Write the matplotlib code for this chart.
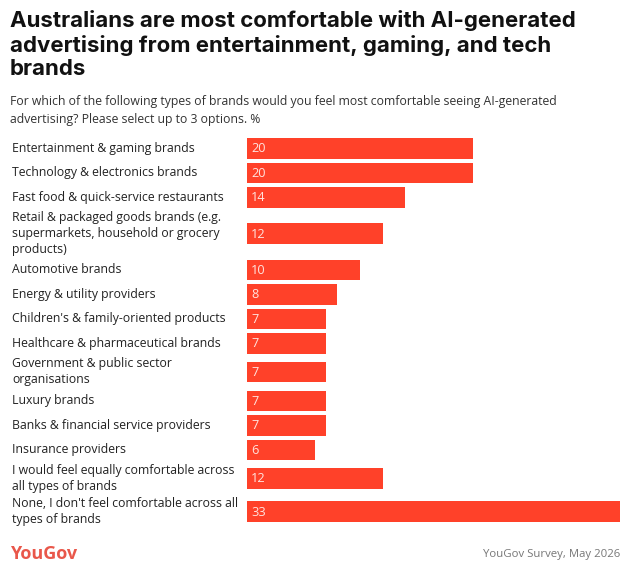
import matplotlib.pyplot as plt
from matplotlib.transforms import blended_transform_factory

# Chart text
title = ("Australians are most comfortable with AI-generated\n"
         "advertising from entertainment, gaming, and tech\n"
         "brands")
subtitle = ("For which of the following types of brands would you feel most comfortable seeing AI-generated\n"
            "advertising? Please select up to 3 options. %")
source = "YouGov Survey, May 2026"

# Data
categories = [
    "Entertainment & gaming brands",
    "Technology & electronics brands",
    "Fast food & quick-service restaurants",
    "Retail & packaged goods brands (e.g.\nsupermarkets, household or grocery\nproducts)",
    "Automotive brands",
    "Energy & utility providers",
    "Children's & family-oriented products",
    "Healthcare & pharmaceutical brands",
    "Government & public sector\norganisations",
    "Luxury brands",
    "Banks & financial service providers",
    "Insurance providers",
    "I would feel equally comfortable across\nall types of brands",
    "None, I don't feel comfortable across all\ntypes of brands",
]
values = [20, 20, 14, 12, 10, 8, 7, 7, 7, 7, 7, 6, 12, 33]

BAR_COLOR = "#FF4129"
TEXT_COLOR = "#222222"

W, H = 630, 575
fig = plt.figure(figsize=(W / 100, H / 100), dpi=100)
fig.patch.set_facecolor("white")

# row layout: taller rows for wrapped labels
row_h = []
for c in categories:
    n = c.count("\n") + 1
    row_h.append(max(24.5, 15 * n + 3))
centers = []
pos = 0
for h in row_h:
    centers.append(pos + h / 2)
    pos += h
total = pos

top_px = 136
ax_left, ax_right = 247, 620
ax = fig.add_axes([ax_left / W, 1 - (top_px + total) / H,
                   (ax_right - ax_left) / W, total / H])
ax.barh(centers, values, height=20.5, color=BAR_COLOR, edgecolor="none")
ax.set_xlim(0, max(values))
ax.set_ylim(total, 0)
ax.axis("off")

tr = blended_transform_factory(fig.transFigure, ax.transData)
for y, label, v in zip(centers, categories, values):
    ax.text(12 / W, y, label, transform=tr, ha="left", va="center",
            fontsize=8.8, color=TEXT_COLOR, family="Open Sans", linespacing=1.3)
    ax.text(0.35, y + 0.5, str(v), ha="left", va="center",
            fontsize=9.2, color="#FFE3DE", family="Open Sans")

fig.text(10 / W, 1 - 10 / H, title, ha="left", va="top", fontsize=16,
         fontweight="bold", color="#111111", family="Inter", linespacing=1.22)
fig.text(10 / W, 1 - 95 / H, subtitle, ha="left", va="top", fontsize=8.8,
         color="#333333", family="Open Sans", linespacing=1.5)
fig.text(10 / W, 1 - 554 / H, "YouGov", ha="left", va="center", fontsize=13,
         fontweight="bold", color="#E9574A", family="Open Sans")
fig.text(620 / W, 1 - 555 / H, source, ha="right", va="center", fontsize=8.2,
         color="#777777", family="Open Sans")

fig.savefig("out.png", dpi=100, facecolor="white")
